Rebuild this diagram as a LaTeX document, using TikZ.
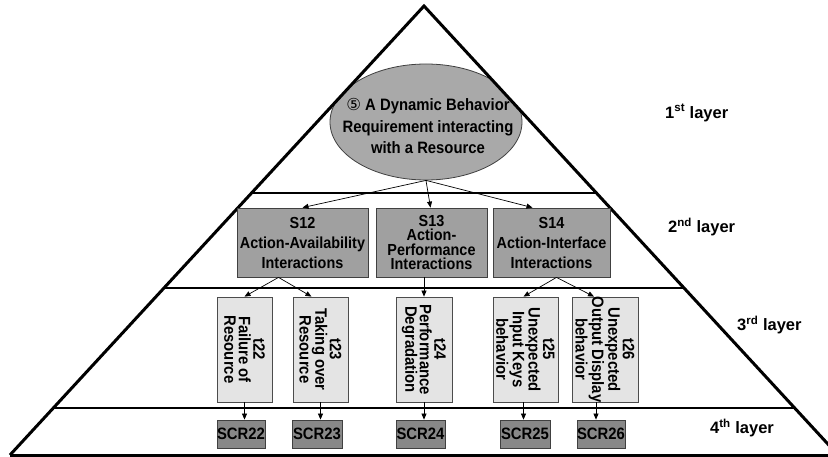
\documentclass[tikz,border=0pt]{standalone}
\usepackage{fontspec}
\setmainfont{Liberation Sans}[FakeStretch=0.9]
\newfontfamily\labelfont{Liberation Sans}
\newfontfamily\symfont{DejaVu Sans}
\usetikzlibrary{arrows.meta,shapes.geometric,calc}

\definecolor{ellgray}{HTML}{A9A9A9}
\definecolor{boxtwo}{HTML}{A0A0A0}
\definecolor{boxthree}{HTML}{E4E4E4}
\definecolor{boxfour}{HTML}{888888}

\tikzset{
  pyramid/.style={line width=3pt, line join=miter},
  divider/.style={line width=2.6pt},
  lvltwo/.style={draw=black!75, fill=boxtwo, line width=0.8pt, minimum height=69pt,
    inner sep=0pt, align=center, font=\bfseries\fontsize{16}{20}\selectfont},
  lvlthree/.style={draw=black!70, fill=boxthree, line width=0.8pt, minimum height=105pt, inner sep=0pt},
  rottext/.style={rotate=-90, align=center, inner sep=0pt, font=\bfseries\fontsize{16.5}{14.5}\selectfont},
  lvlfour/.style={draw=black!75, fill=boxfour, line width=0.8pt, minimum height=28pt,
    inner sep=0pt, font=\bfseries\fontsize{16.5}{16}\selectfont},
  link/.style={-{Triangle[length=6pt,width=5pt]}, line width=0.7pt},
  layerlbl/.style={anchor=west, inner sep=0pt, font=\labelfont\bfseries\fontsize{16.5}{18}\selectfont},
}

\begin{document}
\begin{tikzpicture}[x=1pt,y=-1pt]
\useasboundingbox (0,0) rectangle (828,457);

% pyramid corners
\coordinate (apex) at (424,6);
\coordinate (bl) at (10,455);
\coordinate (br) at (838,455);

% top layer: requirement ellipse, kept inside the pyramid
\begin{scope}
  \clip (apex) -- (bl) -- (br) -- cycle;
  \node[ellipse, draw=black!75, fill=ellgray, line width=0.8pt,
        minimum width=192pt, minimum height=116pt, inner sep=0pt] (req) at (426,122) {};
\end{scope}
\node[align=center, inner sep=0pt, font=\bfseries\fontsize{16.5}{21.5}\selectfont] (reqtext) at (428,126)
  {{\symfont\mdseries ⑤} A Dynamic Behavior\\Requirement interacting\\with a Resource};

% pyramid outline and layer dividers
\draw[pyramid] (bl) -- (apex) -- (br);
\draw[pyramid] (bl) -- (br);
\coordinate (d1l) at ($(apex)!0.4165!(bl)$);
\coordinate (d1r) at ($(apex)!0.4165!(br)$);
\coordinate (d2l) at ($(apex)!0.6280!(bl)$);
\coordinate (d2r) at ($(apex)!0.6280!(br)$);
\coordinate (d3l) at ($(apex)!0.8953!(bl)$);
\coordinate (d3r) at ($(apex)!0.8953!(br)$);
\draw[divider] (d1l) -- (d1r);
\draw[divider] (d2l) -- (d2r);
\draw[divider] (d3l) -- (d3r);

% second layer
\node[lvltwo, minimum width=131pt] (s12) at (302.5,242.5) {S12\\Action-Availability\\Interactions};
\node[lvltwo, minimum width=111pt, font=\bfseries\fontsize{16}{14.5}\selectfont] (s13) at (431.5,242.5)
  {S13\\Action-\\Performance\\Interactions};
\node[lvltwo, minimum width=117pt] (s14) at (551.5,242.5) {S14\\Action-Interface\\Interactions};

% third layer
\node[lvlthree, minimum width=55pt] (t22) at (244.5,349.5) {};
\node[lvlthree, minimum width=55pt] (t23) at (320.5,349.5) {};
\node[lvlthree, minimum width=56pt] (t24) at (424,349.5) {};
\node[lvlthree, minimum width=65pt] (t25) at (525.5,349.5) {};
\node[lvlthree, minimum width=66pt] (t26) at (605,349.5) {};
\node[rottext] (t22text) at (t22) {t22\\Failure of\\Resource};
\node[rottext] (t23text) at (t23) {t23\\Taking over\\Resource};
\node[rottext] (t24text) at (t24) {t24\\Performance\\Degradation};
\node[rottext] (t25text) at (t25) {t25\\Unexpected\\Input Keys\\behavior};
\node[rottext] (t26text) at (t26) {t26\\Unexpected\\Output Display\\behavior};

% fourth layer
\node[lvlfour, minimum width=48pt] (c22) at (241,434) {SCR22};
\node[lvlfour, minimum width=50pt] (c23) at (317,434) {SCR23};
\node[lvlfour, minimum width=49pt] (c24) at (420.5,434) {SCR24};
\node[lvlfour, minimum width=50pt] (c25) at (525,434) {SCR25};
\node[lvlfour, minimum width=48pt] (c26) at (601,434) {SCR26};

% connectors
\draw[link] (req.south) -- (s12.north);
\draw[link] (req.south) -- ([xshift=-1pt]s13.north);
\draw[link] (req.south) -- ([xshift=-19pt]s14.north);

\draw[link] ([xshift=-24pt]s12.south) -- (t22.north);
\draw[link] ([xshift=-24pt]s12.south) -- ([xshift=-9pt]t23.north);
\draw[link] (s13.south -| t24.north) -- (t24.north);
\draw[link] ([xshift=5pt]s14.south) -- ([xshift=-2pt]t25.north);
\draw[link] ([xshift=5pt]s14.south) -- ([xshift=-11pt]t26.north);

\draw[link] (t22.south) -- (t22.south |- c22.north);
\draw[link] (t23.south) -- (t23.south |- c23.north);
\draw[link] (t24.south) -- (t24.south |- c24.north);
\draw[link] ([xshift=-2pt]t25.south) -- ([xshift=-2pt]t25.south |- c25.north);
\draw[link] ([xshift=-9pt]t26.south) -- ([xshift=-9pt]t26.south |- c26.north);

% layer labels
\node[layerlbl] (lay1) at (665,113) {1\textsuperscript{st} layer};
\node[layerlbl] (lay2) at (668,227) {2\textsuperscript{nd} layer};
\node[layerlbl] (lay3) at (737,325) {3\textsuperscript{rd} layer};
\node[layerlbl] (lay4) at (710,428) {4\textsuperscript{th} layer};
\end{tikzpicture}
\end{document}
